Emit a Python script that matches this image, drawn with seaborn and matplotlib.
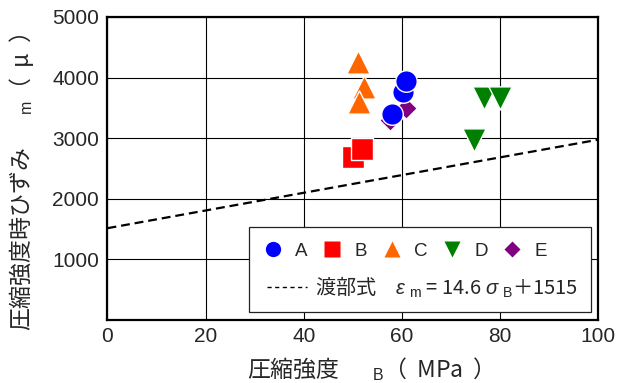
import matplotlib
matplotlib.use("Agg")
import matplotlib.pyplot as plt
import seaborn as sns
from matplotlib.lines import Line2D
from matplotlib.patches import Rectangle

# ---- data ----
a_x = [60.3, 60.9, 58.1]
a_y = [3757, 3949, 3394]
b_x = [50.1, 51.9]
b_y = [2695, 2822]
c_x = [51.0, 52.2, 51.3]
c_y = [4262, 3850, 3602]
d_x = [76.7, 80.0, 74.7]
d_y = [3658, 3658, 2970]
e_x = [60.9, 57.6]
e_y = [3493, 3300]
series_names = ["A", "B", "C", "D", "E"]
slope = 14.6
intercept = 1515
line_x = [0, 100]
xticks = [0, 20, 40, 60, 80, 100]
yticks = [1000, 2000, 3000, 4000, 5000]

sns.set_style("white")
plt.rcParams['font.family'] = ['Liberation Sans', 'Noto Sans CJK JP', 'DejaVu Sans']
plt.rcParams['mathtext.fontset'] = 'custom'
plt.rcParams['mathtext.rm'] = 'Liberation Sans'
plt.rcParams['mathtext.it'] = 'Liberation Sans:italic'

fig = plt.figure(figsize=(6.25, 3.83), dpi=100)
ax = fig.add_axes([107.5 / 625, 1 - 320 / 383, 490.5 / 625, 303 / 383])

cols = {"A": "#0000FF", "B": "#FF0000", "C": "#FF6600", "D": "#008000", "E": "#800080"}
marks = {"A": "o", "B": "s", "C": "^", "D": "v", "E": "D"}
sizes = {"A": 240, "B": 250, "C": 280, "D": 280, "E": 120}
data = {"A": (a_x, a_y), "B": (b_x, b_y), "C": (c_x, c_y), "D": (d_x, d_y), "E": (e_x, e_y)}

# regression line
ly = [slope * v + intercept for v in line_x]
sns.lineplot(x=line_x, y=ly, ax=ax, color="black", lw=1.6, dashes=False, zorder=2)
ax.lines[-1].set_dashes((4, 2.2))

for name in ["E", "A", "B", "C", "D"]:
    xs, ys = data[name]
    sns.scatterplot(x=xs, y=ys, ax=ax, marker=marks[name], color=cols[name], s=sizes[name],
                    edgecolor="white", linewidth=1.0, zorder=4)

ax.set_xlim(0, 100)
ax.set_ylim(0, 5000)
ax.set_xticks(xticks)
ax.set_yticks(yticks)
ax.tick_params(length=0, labelsize=15)
ax.tick_params(axis="x", pad=5)
ax.tick_params(axis="y", pad=6)
ax.grid(True, color="black", lw=0.8)
ax.set_axisbelow(True)
for s in ax.spines.values():
    s.set_linewidth(1.6)
    s.set_color("black")

ax.set_xlabel("圧縮強度　  $_{\\rm B}$（  MPa  ）", fontsize=16.5, family='Noto Sans CJK JP')
ax.xaxis.label.set_ha("left")
ax.xaxis.set_label_coords((247 - 107.5) / 490.5, -0.115)
ax.set_ylabel("圧縮強度時ひずみ　  $_{\\rm m}$（  μ  ）", fontsize=16.5, family='Noto Sans CJK JP')
ax.yaxis.label.set_ha("left")
ax.yaxis.set_label_coords((36 - 107.5) / 490.5, (320 - 331) / 303)

# legend box
ax.add_patch(Rectangle((0.2885, 0.0264), 0.9857 - 0.2885, 0.307 - 0.0264, transform=ax.transAxes,
                       facecolor="white", edgecolor="#222222", lw=0.9, zorder=5))

handles = [Line2D([], [], ls="none", marker=marks[n], markersize=(11 if n != "E" else 8),
                  markerfacecolor=cols[n], markeredgecolor="none") for n in series_names]
leg1 = ax.legend(handles, series_names, ncol=5, loc="center left", bbox_to_anchor=(0.318, 0.2277),
                 frameon=False, fontsize=13.5, handlelength=1.0, handletextpad=0.7,
                 columnspacing=0.8, borderpad=0, borderaxespad=0)
leg1.set_zorder(6)
ax.add_artist(leg1)

lh = Line2D([], [], color="black", lw=1.0, dashes=(3, 2.5))
leg2 = ax.legend([lh], ["渡部式　$\\varepsilon$ $_{\\rm m}$ = 14.6 $\\sigma$ $_{\\rm B}$＋1515"],
                 loc="center left", bbox_to_anchor=(0.3246, 0.109), frameon=False,
                 prop={'family': 'Noto Sans CJK JP', 'size': 14.5}, handlelength=2.0,
                 handletextpad=0.4, borderpad=0, borderaxespad=0)
leg2.set_zorder(6)

fig.savefig("out.png", dpi=100)
